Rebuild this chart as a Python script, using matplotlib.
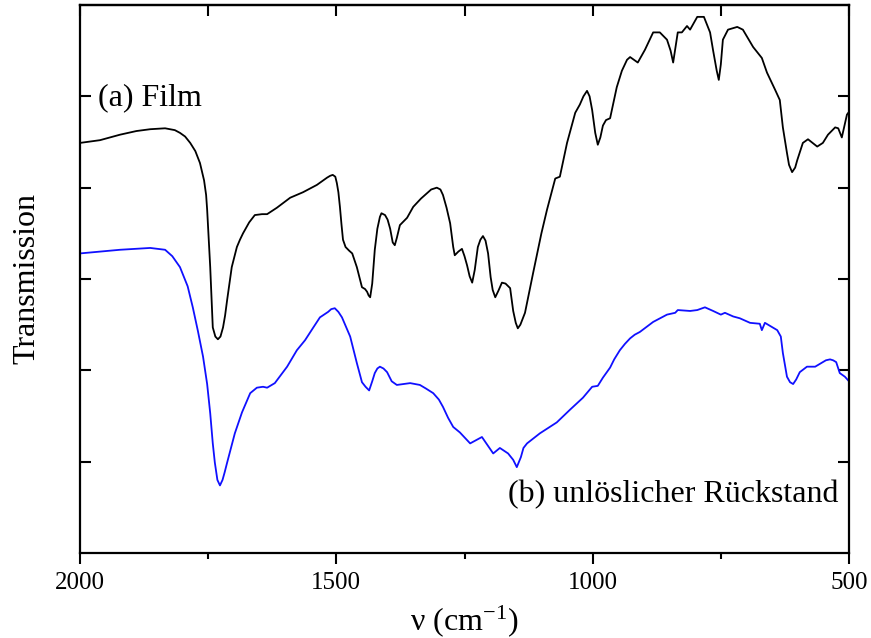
import matplotlib
matplotlib.use("Agg")
import matplotlib.pyplot as plt
from matplotlib.ticker import MultipleLocator, NullFormatter

plt.rcParams['font.family'] = ['Liberation Serif', 'DejaVu Serif']
plt.rcParams['mathtext.fontset'] = 'custom'
plt.rcParams['mathtext.rm'] = 'Liberation Serif'
plt.rcParams['mathtext.it'] = 'Liberation Serif:italic'

# (a) Film
film_wn = [2000, 1961, 1922, 1890, 1863, 1834, 1815, 1805, 1795, 1785, 1775, 1766, 1758, 1754,
           1752, 1749, 1746, 1743, 1741, 1736, 1731, 1726, 1721, 1717, 1713, 1704, 1694, 1688,
           1682, 1670, 1659, 1645, 1635, 1616, 1590, 1565, 1538, 1518, 1512, 1507, 1502, 1499,
           1496, 1493, 1490, 1487, 1482, 1475, 1469, 1460, 1450, 1444, 1440, 1437, 1434, 1430,
           1425, 1420, 1415, 1412, 1405, 1400, 1395, 1390, 1386, 1382, 1376, 1362, 1350, 1335,
           1323, 1315, 1304, 1297, 1292, 1285, 1278, 1272, 1269, 1262, 1255, 1250, 1245, 1240,
           1235, 1230, 1224, 1219, 1214, 1209, 1204, 1199, 1195, 1190, 1184, 1177, 1170, 1161,
           1155, 1150, 1146, 1141, 1132, 1124, 1116, 1100, 1089, 1080, 1073, 1064, 1050, 1034,
           1025, 1018, 1011, 1006, 1001, 995, 990, 985, 980, 974, 966, 953, 943, 933, 927, 912,
           898, 882, 869, 855, 848, 843, 838, 834, 826, 816, 810, 796, 783, 771, 765, 758, 754,
           750, 746, 736, 718, 707, 687, 670, 660, 644, 635, 629, 621, 617, 611, 605, 601, 590,
           580, 562, 551, 541, 527, 521, 514, 504, 500]
film_T = [4.49, 4.52, 4.58, 4.62, 4.64, 4.65, 4.63, 4.60, 4.56, 4.49, 4.40, 4.27, 4.08, 3.92,
          3.76, 3.45, 3.13, 2.75, 2.47, 2.37, 2.34, 2.37, 2.47, 2.60, 2.77, 3.13, 3.35, 3.43,
          3.50, 3.62, 3.70, 3.71, 3.71, 3.78, 3.89, 3.95, 4.03, 4.11, 4.13, 4.14, 4.12, 4.05,
          3.95, 3.79, 3.60, 3.43, 3.35, 3.31, 3.28, 3.13, 2.91, 2.89, 2.86, 2.82, 2.80, 2.95,
          3.32, 3.55, 3.68, 3.72, 3.70, 3.65, 3.55, 3.40, 3.37, 3.45, 3.59, 3.67, 3.79, 3.88,
          3.94, 3.98, 4.00, 3.98, 3.92, 3.78, 3.61, 3.35, 3.26, 3.30, 3.33, 3.25, 3.15, 3.03,
          2.96, 3.10, 3.35, 3.43, 3.47, 3.42, 3.28, 3.02, 2.88, 2.80, 2.87, 2.96, 2.95, 2.90,
          2.65, 2.52, 2.46, 2.50, 2.63, 2.85, 3.07, 3.50, 3.76, 3.95, 4.10, 4.12, 4.49, 4.82,
          4.91, 5.00, 5.06, 5.00, 4.85, 4.60, 4.47, 4.55, 4.68, 4.74, 4.76, 5.10, 5.28, 5.40, 5.43, 5.37,
          5.51, 5.70, 5.70, 5.62, 5.50, 5.37, 5.55, 5.70, 5.70, 5.77, 5.73, 5.87, 5.87, 5.70, 5.50, 5.28, 5.18,
          5.35, 5.62, 5.73, 5.76, 5.73, 5.54, 5.42, 5.26, 5.07, 4.96, 4.66, 4.38, 4.25, 4.17, 4.22, 4.30, 4.49,
          4.53, 4.45, 4.49, 4.58, 4.66, 4.65, 4.55, 4.80, 4.83]

# (b) unlöslicher Rückstand
rest_wn = [2000, 1922, 1863, 1834, 1820, 1805, 1790, 1780, 1770, 1760, 1752, 1746, 1741, 1737,
           1732, 1727, 1722, 1718, 1713, 1698, 1684, 1668, 1655, 1643, 1635, 1620, 1596, 1577,
           1561, 1546, 1532, 1516, 1510, 1503, 1496, 1489, 1473, 1460, 1450, 1443, 1436, 1430,
           1425, 1420, 1415, 1408, 1401, 1392, 1382, 1356, 1337, 1325, 1311, 1300, 1292, 1282,
           1272, 1259, 1239, 1216, 1194, 1181, 1165, 1155, 1148, 1140, 1135, 1128, 1103, 1070,
           1044, 1019, 1010, 1001, 990, 980, 966, 958, 947, 937, 927, 918, 908, 882, 855, 839,
           834, 810, 796, 781, 765, 750, 742, 726, 713, 693, 674, 670, 664, 640, 633, 629, 621,
           615, 609, 603, 596, 582, 566, 551, 545, 537, 531, 525, 518, 508, 500]
rest_T = [3.28, 3.32, 3.34, 3.32, 3.25, 3.13, 2.92, 2.69, 2.43, 2.15, 1.85, 1.53, 1.20, 0.99,
          0.80, 0.74, 0.80, 0.88, 0.99, 1.31, 1.54, 1.75, 1.81, 1.82, 1.81, 1.86, 2.04, 2.22,
          2.33, 2.46, 2.58, 2.64, 2.67, 2.68, 2.64, 2.58, 2.37, 2.08, 1.87, 1.82, 1.78, 1.88,
          1.97, 2.02, 2.04, 2.02, 1.98, 1.88, 1.84, 1.86, 1.84, 1.80, 1.75, 1.68, 1.60, 1.48,
          1.38, 1.32, 1.20, 1.27, 1.09, 1.15, 1.09, 1.02, 0.94, 1.05, 1.15, 1.20, 1.31, 1.43,
          1.57, 1.70, 1.76, 1.82, 1.83, 1.92, 2.03, 2.12, 2.22, 2.29, 2.35, 2.39, 2.42, 2.53, 2.61, 2.63,
          2.66, 2.65, 2.66, 2.69, 2.65, 2.61, 2.63, 2.59, 2.57, 2.52, 2.51, 2.44, 2.52, 2.44, 2.37, 2.19, 1.93,
          1.87, 1.85, 1.90, 1.98, 2.04, 2.04, 2.09, 2.11, 2.12, 2.11, 2.09, 1.97, 1.93, 1.88]

x_ticks = [2000, 1500, 1000, 500]
x_tick_labels = ['2000', '1500', '1000', '500']

fig = plt.figure(figsize=(8.71, 6.38), dpi=100)
ax = fig.add_axes([80/871, 85/638, 769/871, 548/638])

ax.plot(film_wn, film_T, color='black', lw=1.3)
ax.plot(rest_wn, rest_T, color='#1010ff', lw=1.3)

ax.set_xlim(2000, 500)
ax.set_ylim(0, 6)

for s in ax.spines.values():
    s.set_linewidth(1.6)

ax.set_xticks(x_ticks)
ax.set_xticklabels(x_tick_labels, fontsize=18)
ax.xaxis.set_minor_locator(MultipleLocator(250))
ax.tick_params(axis='x', which='major', direction='out', length=8, width=1.5, pad=6, top=False)
ax.tick_params(axis='x', which='minor', direction='out', length=4.5, width=1.5, top=False)

top = ax.secondary_xaxis('top')
top.set_xticks([2000, 1750, 1500, 1250, 1000, 750, 500])
top.xaxis.set_major_formatter(NullFormatter())
top.tick_params(direction='in', length=8, width=1.5)
top.spines['top'].set_linewidth(1.6)

ax.set_yticks([1, 2, 3, 4, 5])
ax.yaxis.set_major_formatter(NullFormatter())
ax.tick_params(axis='y', which='major', direction='in', length=8, width=1.5, left=True, right=True)

ax.set_ylabel('Transmission', fontsize=23, labelpad=24)
ax.set_xlabel('ν (cm$^{\\mathregular{-1}}$)', fontsize=23, labelpad=6)

ax.text(1965, 4.99, '(a) Film', fontsize=23, ha='left', va='center')
ax.text(521, 0.635, '(b) unlöslicher Rückstand', fontsize=23, ha='right', va='center')

fig.savefig('out.png', dpi=100)
